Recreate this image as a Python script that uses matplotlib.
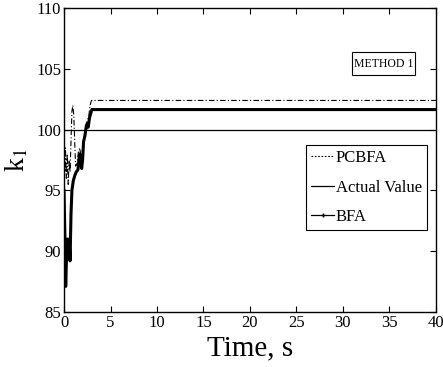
import matplotlib
matplotlib.use('Agg')
import matplotlib.pyplot as plt
from matplotlib.patches import Rectangle

# data
t_bfa = [0, 0.1, 0.18, 0.25, 0.35, 0.45, 0.55, 0.65, 0.75, 0.85, 1.0, 1.15, 1.3, 1.5,
         1.6, 1.7, 1.8, 1.9, 2.0, 2.1, 2.25, 2.4, 2.5, 2.6, 2.75, 2.9, 3.0, 40]
k_bfa = [95, 91, 87.1, 89, 91, 89.5, 91, 89.2, 93, 95, 95.8, 96.2, 96.5, 96.7,
         97.5, 98, 97.2, 96.8, 97.5, 99, 99.5, 100.3, 100.5, 100.2, 101, 101.4, 101.65, 101.65]

t_pc = [0, 0.1, 0.15, 0.25, 0.35, 0.45, 0.55, 0.65, 0.75, 0.85, 0.95, 1.05, 1.15, 1.25,
        1.4, 1.55, 1.7, 1.85, 2.0, 2.2, 2.35, 2.5, 2.65, 2.8, 2.95, 40]
k_pc = [98.8, 96.5, 98.5, 96, 98, 95.5, 97.5, 96.5, 99, 101.5, 102, 101.2, 99, 97,
        97.2, 98.2, 98.5, 97.5, 98.5, 99.5, 100, 100.8, 101, 102, 102.4, 102.4]

t_act = [0, 40]
k_act = [100, 100]

plt.rcParams['font.family'] = ['Liberation Serif', 'DejaVu Serif']
plt.rcParams['mathtext.fontset'] = 'stix'

fig = plt.figure(figsize=(4.43, 3.67), dpi=100)
ax = fig.add_axes([0.1445, 0.150, 0.8395, 0.828])

ax.plot(t_pc, k_pc, color='black', lw=0.8, linestyle=(0, (5, 2, 1, 2)), label='PCBFA')
ax.plot(t_act, k_act, color='black', lw=0.9, label='Actual Value')
ax.plot(t_bfa, k_bfa, color='black', lw=2.2, label='BFA')

ax.set_xlim(0, 40)
ax.set_ylim(85, 110)
ax.set_xticks(range(0, 41, 5))
ax.set_yticks(range(85, 111, 5))
ax.tick_params(direction='in', length=4, width=0.8, top=True, right=True, labelsize=12, pad=2)
for s in ax.spines.values():
    s.set_linewidth(1.0)

ax.set_xlabel('Time, s', fontsize=21, labelpad=3)
ax.set_ylabel('k$_1$', fontsize=20, labelpad=4)

leg = ax.legend(loc='lower right', bbox_to_anchor=(0.976, 0.27), fontsize=12,
                handlelength=1.4, handletextpad=0.1, borderpad=0.3, labelspacing=0.8,
                fancybox=False, edgecolor='black', framealpha=1, borderaxespad=0)
leg.get_frame().set_linewidth(0.8)
hl = leg.get_lines()
hl[0].set_linestyle((0, (1.5, 1.5)))
hl[2].set_linewidth(0.9)
hl[2].set_marker('+')
hl[2].set_markersize(3)
hl[2].set_markevery([1])

# METHOD 1 tag
ax.add_patch(Rectangle((0.774, 0.780), 0.170, 0.075, transform=ax.transAxes,
                       fc='white', ec='black', lw=0.8, zorder=5))
ax.text(0.859, 0.8175, 'METHOD 1', transform=ax.transAxes, ha='center', va='center',
        fontsize=8.5, zorder=6)

fig.savefig('out.png', dpi=100)
